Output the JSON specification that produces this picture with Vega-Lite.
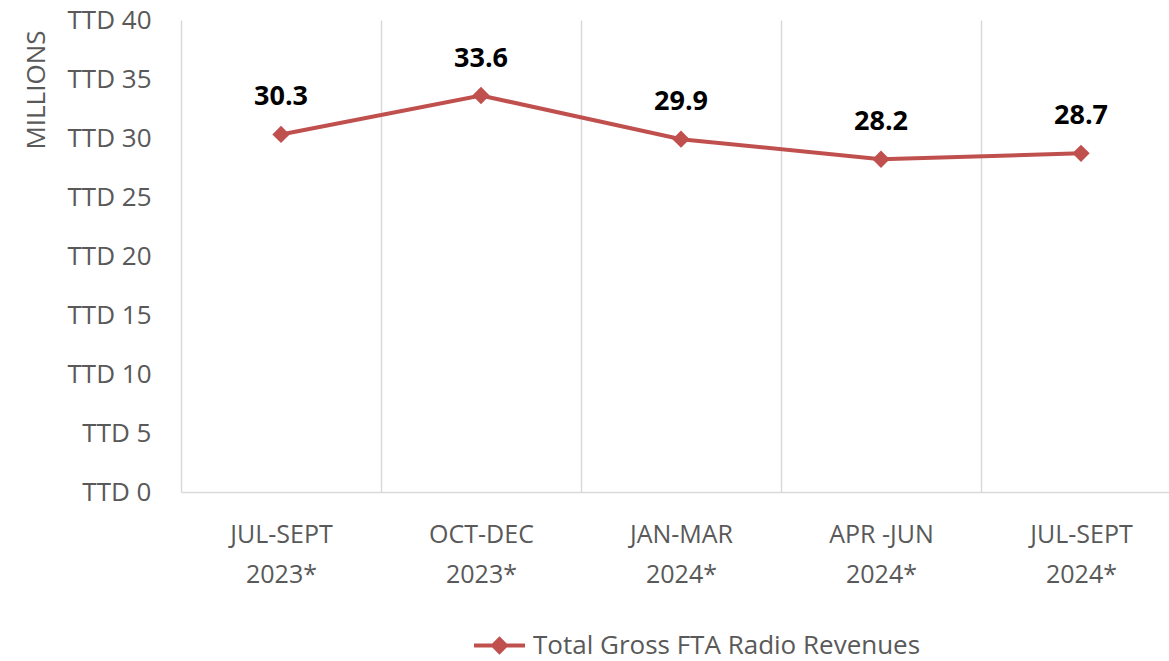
{
  "$schema": "https://vega.github.io/schema/vega-lite/v6.json",
  "width": 988,
  "height": 472,
  "autosize": {"type": "none"},
  "padding": {"left": 181, "top": 20, "right": 0, "bottom": 169},
  "background": "white",
  "config": {
    "view": {"stroke": null},
    "font": "Open Sans"
  },
  "data": {
    "values": [
      {"quarter": "JUL-SEPT 2023*", "value": 30.3, "series": "Total Gross FTA Radio Revenues"},
      {"quarter": "OCT-DEC 2023*", "value": 33.6, "series": "Total Gross FTA Radio Revenues"},
      {"quarter": "JAN-MAR 2024*", "value": 29.9, "series": "Total Gross FTA Radio Revenues"},
      {"quarter": "APR -JUN 2024*", "value": 28.2, "series": "Total Gross FTA Radio Revenues"},
      {"quarter": "JUL-SEPT 2024*", "value": 28.7, "series": "Total Gross FTA Radio Revenues"}
    ]
  },
  "encoding": {
    "x": {
      "field": "quarter",
      "type": "nominal",
      "sort": null,
      "scale": {"type": "band", "paddingInner": 0, "paddingOuter": 0, "range": [0, 1000]},
      "axis": {
        "title": null,
        "labelAngle": 0,
        "labelExpr": "[slice(datum.label, 0, -6), slice(datum.label, -5)]",
        "labelFont": "Open Sans",
        "labelFontSize": 25,
        "labelColor": "#595959",
        "labelLineHeight": 40,
        "labelPadding": 30,
        "labelBaseline": "top",
        "ticks": false,
        "tickSize": 0,
        "tickBand": "extent",
        "grid": true,
        "gridColor": "#d9d9d9",
        "gridWidth": 1.5,
        "domainColor": "#d9d9d9",
        "domainWidth": 1.5
      }
    },
    "y": {
      "field": "value",
      "type": "quantitative",
      "scale": {"domain": [0, 40]},
      "axis": {
        "title": "MILLIONS",
        "titleFont": "Open Sans",
        "titleFontSize": 26,
        "titleFontWeight": "normal",
        "titleColor": "#595959",
        "titleAnchor": "end",
        "titlePadding": 18,
        "titleY": 10,
        "values": [0, 5, 10, 15, 20, 25, 30, 35, 40],
        "labelExpr": "'TTD ' + datum.value",
        "labelFont": "Open Sans",
        "labelFontSize": 26,
        "labelColor": "#595959",
        "labelPadding": 30,
        "ticks": false,
        "tickSize": 0,
        "domain": false,
        "grid": false
      }
    }
  },
  "layer": [
    {
      "mark": {"type": "line", "strokeWidth": 4},
      "encoding": {
        "color": {
          "field": "series",
          "type": "nominal",
          "scale": {"range": ["#C0504D"]},
          "legend": {
            "title": null,
            "orient": "none",
            "legendX": 291,
            "legendY": 598,
            "labelFont": "Open Sans",
            "labelFontSize": 26,
            "labelColor": "#595959",
            "labelLimit": 700,
            "symbolType": "M-1,0L1,0M-0.25,0L0,-0.25L0.25,0L0,0.25Z",
            "symbolSize": 2601,
            "symbolStrokeWidth": 4,
            "labelOffset": 6,
            "encode": {
              "symbols": {
                "update": {
                  "fill": {"value": "#C0504D"},
                  "stroke": {"value": "#C0504D"},
                  "strokeWidth": {"value": 4}
                }
              }
            }
          }
        }
      }
    },
    {
      "mark": {"type": "point", "shape": "diamond", "filled": true, "size": 300, "color": "#C0504D", "opacity": 1}
    },
    {
      "mark": {"type": "text", "dy": -37, "font": "Open Sans", "fontWeight": "bold", "fontSize": 27, "color": "black", "baseline": "middle"},
      "encoding": {
        "text": {"field": "value", "type": "quantitative", "format": ".1f"}
      }
    }
  ]
}
